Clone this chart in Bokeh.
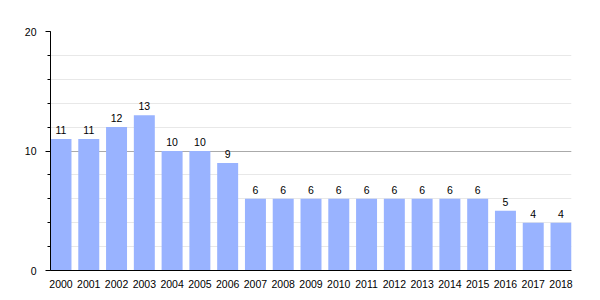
from bokeh.plotting import figure
from bokeh.models import ColumnDataSource, Range1d, FixedTicker, SingleIntervalTicker
from bokeh.core.properties import value
from bokeh.embed import file_html
from bokeh.resources import INLINE

years = ["2000", "2001", "2002", "2003", "2004", "2005", "2006", "2007", "2008", "2009",
         "2010", "2011", "2012", "2013", "2014", "2015", "2016", "2017", "2018"]
values = [11, 11, 12, 13, 10, 10, 9, 6, 6, 6, 6, 6, 6, 6, 6, 6, 5, 4, 4]

idx = list(range(len(years)))
bar_w = 0.755
src = ColumnDataSource(dict(x=idx, top=values, label=[str(v) for v in values]))

p = figure(width=592, height=292, output_backend="svg", toolbar_location=None,
           x_range=Range1d(-bar_w / 2, len(years) - 1 + bar_w / 2),
           y_range=Range1d(0, 20),
           min_border_left=50, min_border_right=21, min_border_top=31, min_border_bottom=22)
p.outline_line_color = None
p.background_fill_color = "white"
p.border_fill_color = "white"

p.vbar(x="x", top="top", width=bar_w, bottom=0, source=src,
       fill_color="#99b3ff", line_color=None)

p.text(x="x", y="top", text="label", source=src, text_align="center",
       text_baseline="bottom", y_offset=-5, text_font_size="10.5px",
       text_font=value("Liberation Sans"), text_color="black")

# x axis
p.xaxis.ticker = FixedTicker(ticks=idx)
p.xaxis.major_label_overrides = {i: y for i, y in enumerate(years)}
p.xaxis.major_tick_line_color = None
p.xaxis.minor_tick_line_color = None
p.xaxis.axis_line_color = "black"
p.xaxis.major_label_text_font = "Liberation Sans"
p.xaxis.major_label_text_font_size = "10.5px"
p.xaxis.major_label_text_color = "black"
p.xaxis.major_label_standoff = 3
p.xgrid.grid_line_color = None

# y axis
p.yaxis.ticker = SingleIntervalTicker(interval=10, num_minor_ticks=5)
p.yaxis.axis_line_color = "black"
p.yaxis.major_tick_in = 0
p.yaxis.major_tick_out = 5
p.yaxis.minor_tick_in = 0
p.yaxis.minor_tick_out = 3
p.yaxis.major_tick_line_color = "black"
p.yaxis.minor_tick_line_color = "black"
p.yaxis.major_label_text_font = "Liberation Sans"
p.yaxis.major_label_text_font_size = "10.5px"
p.yaxis.major_label_text_color = "black"
p.yaxis.major_label_standoff = 9
p.ygrid.grid_line_color = "#aaaaaa"
p.ygrid.minor_grid_line_color = "#e8e8e8"

open("out.html", "w").write(file_html(p, INLINE))
